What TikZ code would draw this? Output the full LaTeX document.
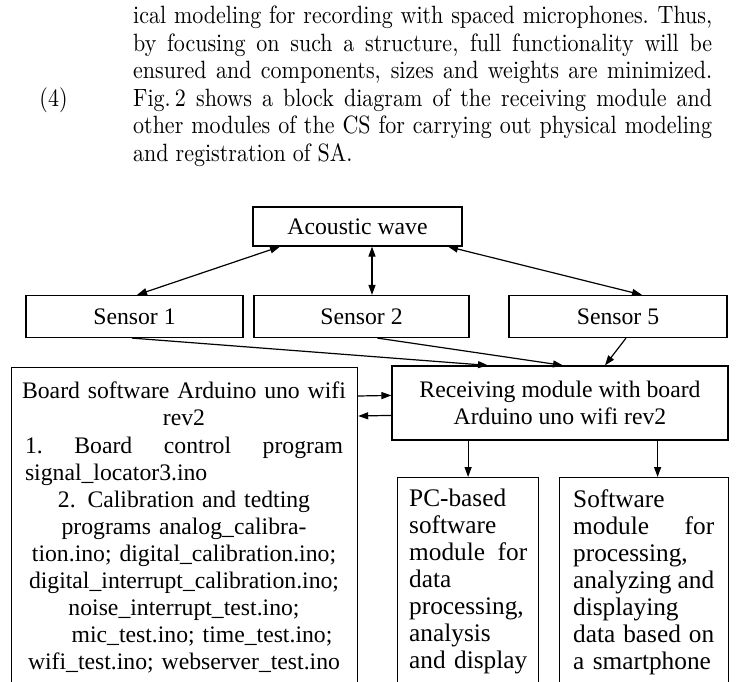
\documentclass[tikz,border=0pt]{standalone}
\usepackage{fontspec}
\newfontfamily\diagfont{Liberation Serif}
\newfontfamily\pfont{lmroman10-regular.otf}[FakeStretch=0.88]
\usetikzlibrary{arrows.meta,calc}
\newcommand\jline[2]{\makebox[#1][s]{#2}}
\newcommand\pspc{\spaceskip=.28em plus 1fil minus .1em\relax\xspaceskip=.32em plus 1fil minus .1em\relax}
\begin{document}
\begin{tikzpicture}[x=1pt,y=-1pt,
  box/.style={draw, line width=1.2pt, inner sep=0pt},
  dtxt/.style={font=\diagfont\fontsize{23.7}{27.1}\selectfont},
  btxt/.style={font=\diagfont\fontsize{25.3}{27}\selectfont},
  ptxt/.style={font=\pfont\fontsize{25}{27.5}\selectfont, inner sep=0pt},
  arr/.style={line width=1.2pt, -{Triangle[length=10pt,width=7pt]}},
  darr/.style={line width=1.2pt, {Triangle[length=10pt,width=7pt]}-{Triangle[length=10pt,width=7pt]}},
]
\useasboundingbox (0,0) rectangle (736,682);
\clip (0,0) rectangle (736,682);
\fill[white] (0,0) rectangle (736,682);

% paragraph
\node[ptxt, anchor=north west, text width=579pt, align=left] (para) at (133,6) {\pspc
\jline{579pt}{ical modeling for recording with spaced microphones. Thus,}\\
\jline{579pt}{by focusing on such a structure, full functionality will be}\\
\jline{579pt}{ensured and components, sizes and weights are minimized.}\\
\jline{579pt}{Fig.\,2 shows a block diagram of the receiving module and}\\
\jline{579pt}{other modules of the CS for carrying out physical modeling}\\
\makebox[579pt][l]{and registration of SA.\hfill}};
\node[ptxt, anchor=base] (eqno) at (53.5,106.4) {(4)};

% boxes
\node[box, dtxt, minimum width=209pt, minimum height=39pt] (aw) at (357.5,226.5) {Acoustic wave};
\node[box, dtxt, minimum width=217pt, minimum height=42pt] (s1) at (134.5,316.5) {Sensor 1};
\node[box, dtxt, minimum width=215pt, minimum height=42pt] (s2) at (361.5,316.5) {Sensor 2};
\node[box, dtxt, minimum width=218pt, minimum height=42pt] (s5) at (618,316.5) {Sensor 5};
\node[box, dtxt, minimum width=336pt, minimum height=74pt, align=center] (recv) at (560,403) {Receiving module with board\\Arduino uno wifi rev2};
\node[box, minimum width=346pt, minimum height=330pt, anchor=north west] (board) at (11,367) {};
\node[box, minimum width=141pt, minimum height=220pt, anchor=north west] (pc) at (397,477) {};
\node[box, minimum width=169pt, minimum height=220pt, anchor=north west] (sw) at (559,477) {};

\node[dtxt, anchor=north, text width=318pt, align=center, inner sep=0pt] (boardtxt) at (184,382) {%
\makebox[318pt][c]{Board software Arduino uno wifi}\\
\makebox[318pt][c]{rev2}\\
\makebox[318pt][s]{1.\hfill Board\hfill control\hfill program}\\
\makebox[318pt][l]{signal\_locator3.ino}\\
\makebox[318pt][c]{2. Calibration and tedting}\\
\makebox[318pt][c]{programs analog\_calibra-}\\
\makebox[318pt][c]{tion.ino; digital\_calibration.ino;}\\
\makebox[318pt][c]{digital\_interrupt\_calibration.ino;}\\
\makebox[318pt][c]{noise\_interrupt\_test.ino;}\\
\makebox[318pt][c]{\hspace*{36pt}mic\_test.ino; time\_test.ino;}\\
\makebox[318pt][c]{wifi\_test.ino; webserver\_test.ino}};

\node[btxt, anchor=north west, text width=118pt, align=left, inner sep=0pt] (pctxt) at (409,489) {%
\makebox[118pt][l]{PC-based}\\
\makebox[118pt][l]{software}\\
\makebox[118pt][s]{module\hfill for}\\
\makebox[118pt][l]{data}\\
\makebox[118pt][l]{processing,}\\
\makebox[118pt][l]{analysis}\\
\makebox[118pt][l]{and display}};

\node[btxt, anchor=north west, text width=141pt, align=left, inner sep=0pt] (swtxt) at (573,489) {%
\makebox[141pt][l]{Software}\\
\makebox[141pt][s]{module\hfill for}\\
\makebox[141pt][l]{processing,}\\
\makebox[141pt][s]{analyzing\hfill and}\\
\makebox[141pt][l]{displaying}\\
\makebox[141pt][s]{data\hfill based\hfill on}\\
\makebox[141pt][l]{a smartphone}};

% connectors
\draw[darr] ([xshift=-77.5pt]aw.south) -- ([xshift=2.5pt]s1.north);
\draw[darr] ([xshift=14.5pt]aw.south) -- ([xshift=10.5pt]s2.north);
\draw[darr] ([xshift=90.5pt]aw.south) -- ([xshift=24pt]s5.north);
\draw[arr] ([xshift=-2.5pt]s1.south) -- ([xshift=-72pt]recv.north);
\draw[arr] ([xshift=16pt]s2.south) -- ([xshift=3pt]recv.north);
\draw[arr] ([xshift=8pt]s5.south) -- ([xshift=45pt]recv.north);
\draw[arr] ([yshift=-29pt]board.north east) -- ([yshift=-30pt]recv.north west);
\draw[arr] ([yshift=-50pt]recv.north west) -- ([yshift=-49pt]board.north east);
\draw[arr] (pc.north |- recv.south) -- (pc.north);
\draw[arr] ($(sw.north |- recv.south)+(13.5,0)$) -- ($(sw.north)+(13.5,0)$);
\end{tikzpicture}
\end{document}
